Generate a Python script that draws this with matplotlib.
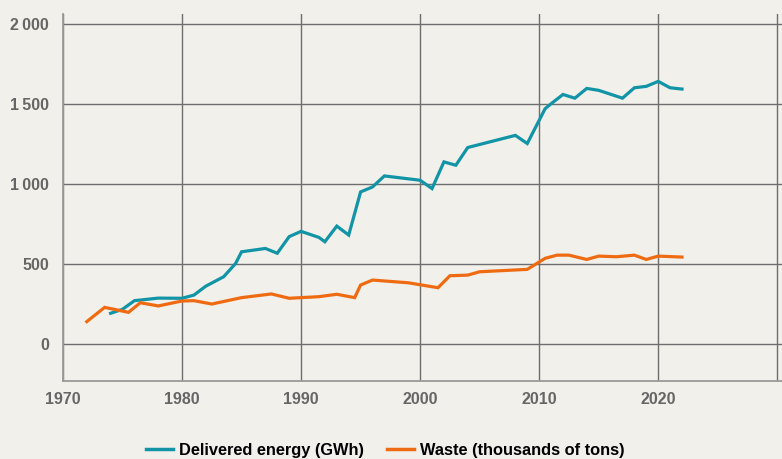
import matplotlib
matplotlib.use("Agg")
import matplotlib.pyplot as plt
from matplotlib.font_manager import FontProperties

# values
energy_years = [1974, 1975, 1976, 1977, 1978, 1980, 1981, 1982, 1983.5, 1984.5, 1985, 1987, 1988,
                1989, 1990, 1991.5, 1992, 1993, 1994, 1995, 1996, 1997, 2000, 2001, 2002, 2003,
                2004, 2008, 2009, 2010.5, 2011, 2012, 2013, 2014, 2015, 2017, 2018, 2019, 2020,
                2021, 2022]
energy_gwh = [190, 215, 269, 277, 285, 284, 304, 360, 419, 502, 575, 596, 566,
              670, 703, 665, 638, 736, 680, 950, 981, 1050, 1023, 971, 1138, 1117,
              1228, 1304, 1253, 1471, 1502, 1560, 1537, 1598, 1586, 1537, 1602, 1611, 1642,
              1602, 1594]

waste_years = [1972, 1973.5, 1975.5, 1976.5, 1978, 1980, 1981, 1982.5, 1985, 1987.5, 1989,
               1991.5, 1993, 1994.5, 1995, 1996, 1999, 2001.5, 2002.5, 2004, 2005, 2009,
               2010.5, 2011.5, 2012.5, 2014, 2015, 2016.5, 2018, 2019, 2020, 2022]
waste_kt = [138, 227, 196, 256, 236, 267, 269, 248, 288, 311, 284,
            294, 309, 288, 367, 398, 381, 350, 425, 429, 450, 465,
            534, 554, 554, 527, 548, 544, 554, 527, 548, 542]

x_ticks = [1970, 1980, 1990, 2000, 2010, 2020]
x_labels = ["1970", "1980", "1990", "2000", "2010", "2020"]
y_ticks = [0, 500, 1000, 1500, 2000]
y_labels = ["0", "500", "1\u2009000", "1\u2009500", "2\u2009000"]

bg = "#f1f0eb"
teal = "#1294a7"
orange = "#ef6b12"
tick_col = "#666666"
fam = ["Liberation Sans", "DejaVu Sans"]

plt.rcParams["font.family"] = fam

fig = plt.figure(figsize=(7.82, 4.59), dpi=100, facecolor=bg)
ax = fig.add_axes([63 / 782, 1 - 381 / 459, 1 - 63 / 782, (381 - 14) / 459])
ax.set_facecolor(bg)

ax.plot(energy_years, energy_gwh, color=teal, lw=2.3, label="Delivered energy (GWh)",
        solid_joinstyle="miter", zorder=3)
ax.plot(waste_years, waste_kt, color=orange, lw=2.3, label="Waste (thousands of tons)",
        solid_joinstyle="miter", zorder=3)

ax.set_xlim(1970, 2030.4)
ax.set_ylim(-234, 2064)

# grid lines
for x in range(1970, 2031, 10):
    ax.axvline(x, color="#6e6e6e", lw=1.0, zorder=1)
for y in y_ticks:
    ax.axhline(y, color="#6e6e6e", lw=1.0, zorder=1)

ax.set_xticks(x_ticks)
ax.set_xticklabels(x_labels, family=fam, fontweight="bold", fontsize=11.5, color=tick_col)
ax.set_yticks(y_ticks)
ax.set_yticklabels(y_labels, family=fam, fontweight="bold", fontsize=11.5, color=tick_col)
ax.tick_params(length=0)
ax.tick_params(axis="y", pad=10)
ax.tick_params(axis="x", pad=8)

for s in ["top", "right"]:
    ax.spines[s].set_visible(False)
for s in ["left", "bottom"]:
    ax.spines[s].set_color("#9a9a9a")
    ax.spines[s].set_linewidth(1.3)

leg_font = FontProperties(family=fam, weight="bold", size=11.8)
leg = fig.legend(loc="center", bbox_to_anchor=(385.5 / 782, 1 - 450 / 459), ncol=2,
                 frameon=False, handlelength=1.63, handletextpad=0.37, columnspacing=1.4,
                 prop=leg_font, borderpad=0, borderaxespad=0)
for line in leg.get_lines():
    line.set_linewidth(2.5)

fig.savefig("out.png", dpi=100, facecolor=bg)
